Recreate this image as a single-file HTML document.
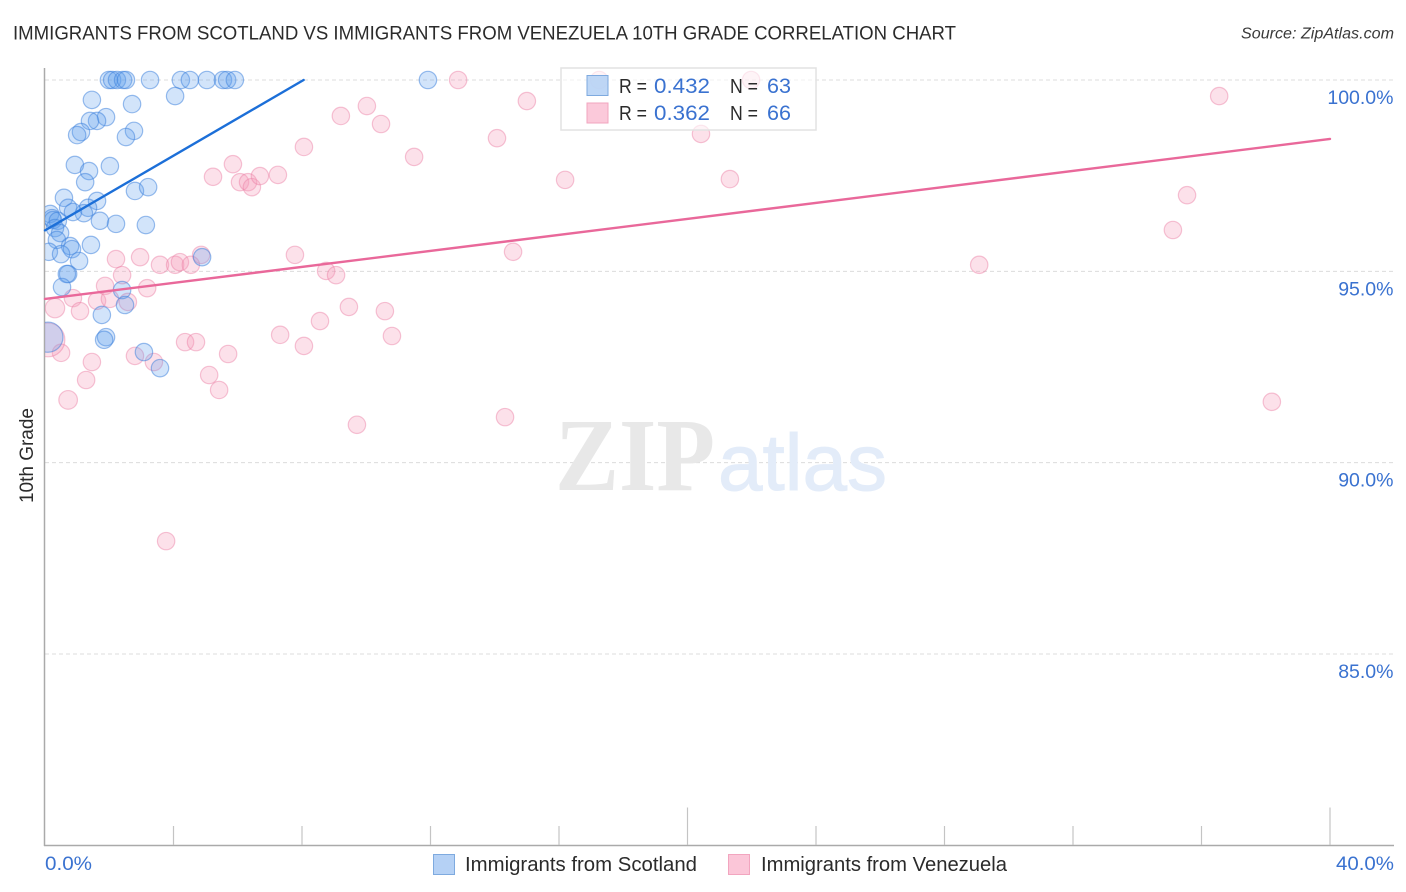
<!DOCTYPE html>
<html lang="en">
<head>
<meta charset="utf-8">
<title>Immigrants from Scotland vs Immigrants from Venezuela 10th Grade Correlation Chart</title>
<style>
html,body{margin:0;padding:0;background:#fff;}
body{width:1406px;height:892px;overflow:hidden;}
svg{display:block;font-family:"Liberation Sans",sans-serif;}
</style>
</head>
<body>
<svg id="chart" width="1406" height="892" viewBox="0 0 1406 892" xmlns="http://www.w3.org/2000/svg">
  <defs>
    <clipPath id="plot-clip"><rect x="45" y="60" width="1349" height="786"></rect></clipPath>
  </defs>
  <rect x="0" y="0" width="1406" height="892" fill="#fff"></rect>
  <text x="13" y="39.5" font-size="19.5" fill="#2b2b2b" textLength="943" lengthAdjust="spacingAndGlyphs">IMMIGRANTS FROM SCOTLAND VS IMMIGRANTS FROM VENEZUELA 10TH GRADE CORRELATION CHART</text>
  <text x="1241" y="38.5" font-size="15.5" font-style="italic" fill="#3a3a3a" textLength="153" lengthAdjust="spacingAndGlyphs">Source: ZipAtlas.com</text>
  <text transform="translate(33,503) rotate(-90)" font-size="19" fill="#2b2b2b" textLength="95" lengthAdjust="spacingAndGlyphs">10th Grade</text>
  <g id="grid"></g>
  <g>
    <text x="555" y="490" font-family="'Liberation Serif',serif" font-size="104" font-weight="bold" fill="#e8e8e8" textLength="160" lengthAdjust="spacingAndGlyphs">ZIP</text>
    <text x="718" y="490" font-size="80" fill="#e3ecf9" stroke="#e3ecf9" stroke-width="1" textLength="169" lengthAdjust="spacingAndGlyphs">atlas</text>
  </g>
  <g id="axes"></g>
  <g id="points" clip-path="url(#plot-clip)"></g>
  <g id="trends"></g>
  <g>
    <rect x="561" y="68" width="255" height="62" fill="#fff" fill-opacity="0.62" stroke="#e2e2e2" stroke-width="1.5"></rect>
    <rect x="587" y="75.5" width="21" height="20" fill="#b5d1f5" fill-opacity="0.88" stroke="#7eaadf" stroke-width="1"></rect>
    <rect x="587" y="103" width="21" height="20" fill="#fbc6d8" fill-opacity="0.95" stroke="#f2a5bf" stroke-width="1"></rect>
    <text x="619" y="93" font-size="20" fill="#2b2b2b" textLength="28" lengthAdjust="spacingAndGlyphs">R =</text>
    <text x="654" y="93" font-size="21" fill="#3a72d0" textLength="56" lengthAdjust="spacingAndGlyphs">0.432</text>
    <text x="730" y="93" font-size="20" fill="#2b2b2b" textLength="28" lengthAdjust="spacingAndGlyphs">N =</text>
    <text x="767" y="93" font-size="21" fill="#3a72d0" textLength="24" lengthAdjust="spacingAndGlyphs">63</text>
    <text x="619" y="120" font-size="20" fill="#2b2b2b" textLength="28" lengthAdjust="spacingAndGlyphs">R =</text>
    <text x="654" y="120" font-size="21" fill="#3a72d0" textLength="56" lengthAdjust="spacingAndGlyphs">0.362</text>
    <text x="730" y="120" font-size="20" fill="#2b2b2b" textLength="28" lengthAdjust="spacingAndGlyphs">N =</text>
    <text x="767" y="120" font-size="21" fill="#3a72d0" textLength="24" lengthAdjust="spacingAndGlyphs">66</text>
  </g>
  <g>
    <rect x="433.5" y="854.5" width="21" height="20" fill="#b5d1f5" stroke="#7eaadf" stroke-width="1"></rect>
    <text x="465" y="871" font-size="20" fill="#2b2b2b" textLength="232" lengthAdjust="spacingAndGlyphs">Immigrants from Scotland</text>
    <rect x="728.5" y="854.5" width="21" height="20" fill="#fbc6d8" stroke="#f2a5bf" stroke-width="1"></rect>
    <text x="761" y="871" font-size="20" fill="#2b2b2b" textLength="246" lengthAdjust="spacingAndGlyphs">Immigrants from Venezuela</text>
  </g>
</svg>
<script>
const yTickValues = [100, 95, 90, 85];
const yTickLabels = ["100.0%", "95.0%", "90.0%", "85.0%"];
const xTickValues = [0, 4, 8, 12, 16, 20, 24, 28, 32, 36, 40];
const xMajorTicks = [20, 40];
const xEndLabels = ["0.0%", "40.0%"];

const scotlandX = [1.99,2.09,2.24,2.43,2.52,3.27,4.23,4.51,5.04,5.54,5.67,5.91,11.92,
  1.46,2.71,4.05,1.90,1.62,1.40,1.12,1.00,2.77,2.52,
  0.93,1.37,1.25,2.02,2.80,3.21,
  0.59,1.62,1.34,1.21,0.72,0.87,1.71,2.21,3.14,
  0.16,0.22,0.25,0.40,0.31,0.47,0.37,0.78,0.84,1.43,0.12,0.50,1.06,4.89,
  0.72,0.68,0.53,2.40,2.49,1.77,1.90,1.84,3.08,3.58,0.09];
const scotlandY = [100,100,100,100,100,100,100,100,100,100,100,100,100,
  99.48,99.37,99.58,99.03,98.93,98.93,98.64,98.56,98.67,98.51,
  97.78,97.62,97.33,97.75,97.10,97.20,
  96.92,96.84,96.66,96.52,96.66,96.55,96.32,96.24,96.21,
  96.50,96.39,96.34,96.32,96.13,96.00,95.82,95.66,95.58,95.69,95.51,95.45,95.27,95.37,
  94.93,94.93,94.59,94.51,94.12,93.86,93.28,93.21,92.89,92.47,93.28];

const venezuelaX = [36.55,12.86,21.98,15.00,10.02,9.21,10.46,14.07,20.42,8.06,11.49,16.19,21.32,
  5.85,5.23,6.07,6.32,6.44,6.69,7.25,35.55,35.11,14.57,
  2.21,2.96,3.58,4.05,4.20,4.54,4.86,7.78,29.08,8.75,9.06,
  2.40,1.87,3.18,0.87,1.62,2.02,2.58,0.31,1.09,
  9.46,8.56,10.58,10.80,7.32,8.06,4.36,4.70,5.70,2.80,3.39,1.46,1.28,0.72,5.11,5.42,0.50,0.09,
  9.71,14.32,3.77,38.19,17.25];
const venezuelaY = [99.58,100,100,99.45,99.32,99.06,98.85,98.48,98.59,98.25,97.99,97.39,97.41,
  97.80,97.47,97.33,97.33,97.20,97.49,97.52,96.99,96.08,95.51,
  95.32,95.37,95.17,95.17,95.24,95.17,95.43,95.43,95.17,95.01,94.90,
  94.90,94.62,94.56,94.30,94.23,94.28,94.20,94.04,93.96,
  94.07,93.70,93.96,93.31,93.34,93.05,93.15,93.15,92.84,92.79,92.63,92.63,92.16,91.64,92.29,91.90,92.87,93.21,
  90.99,91.19,87.95,91.59,100];

const scotlandTrendX = [0, 8.05];
const scotlandTrendY = [96.07, 100];
const venezuelaTrendX = [0, 40];
const venezuelaTrendY = [94.28, 98.46];

/* population weights for unusually heavy points, by point index; all others weigh 1 */
const scotlandWeights = {62: 3};
const venezuelaWeights = {41: 1.25, 56: 1.15, 60: 3.8};

const SVG_NS = "http://www.w3.org/2000/svg";
const xScale = v => 45 + v * (1330 - 45) / 40;
const yScale = v => 80 + (100 - v) * (654 - 80) / 15;
const radius = w => 8.7 * Math.sqrt(w);

function make(tag, attrs, parent, text) {
  const el = document.createElementNS(SVG_NS, tag);
  Object.keys(attrs).forEach(k => el.setAttribute(k, attrs[k]));
  if (text !== undefined) el.textContent = text;
  parent.appendChild(el);
  return el;
}

const grid = document.getElementById("grid");
const axes = document.getElementById("axes");
const pointsLayer = document.getElementById("points");
const trends = document.getElementById("trends");

yTickValues.forEach((v, i) => {
  const line = make("line", {x1: 45, x2: 1394, y1: yScale(v), y2: yScale(v), stroke: "#dcdcdc", "stroke-width": 1, "stroke-dasharray": "4 3"}, grid);
  
  
  const label = make("text", {x: 1393.5, y: yScale(v) + 24, "text-anchor": "end", "font-size": 19.5, fill: "#3a72d0"}, axes, yTickLabels[i]);
  
  
});

const leftAxis = make("line", {x1: 44.5, x2: 44.5, y1: 68, y2: 846, stroke: "#aaaaaa", "stroke-width": 1.5}, axes);


const bottomAxis = make("line", {x1: 44, x2: 1394, y1: 845.5, y2: 845.5, stroke: "#aaaaaa", "stroke-width": 1.5}, axes);



xTickValues.slice(1).forEach(v => {
  const top = xMajorTicks.includes(v) ? 807.5 : 826;
  const tick = make("line", {x1: xScale(v), x2: xScale(v), y1: top, y2: 845, stroke: "#c4c4c4", "stroke-width": 1.2}, axes);
  
  
});

const xLabelStart = make("text", {x: xScale(xTickValues[0]), y: 870, "font-size": 19.5, fill: "#3a72d0", textLength: 47, lengthAdjust: "spacingAndGlyphs"}, axes, xEndLabels[0]);


const xLabelEnd = make("text", {x: 1336, y: 870, "font-size": 19.5, fill: "#3a72d0", textLength: 58, lengthAdjust: "spacingAndGlyphs"}, axes, xEndLabels[1]);



venezuelaX.forEach((x, i) => {
  const c = make("circle", {cx: xScale(x), cy: yScale(venezuelaY[i]), r: radius(venezuelaWeights[i] || 1), fill: "#f59ab8", "fill-opacity": 0.3, stroke: "#ec7fa5", "stroke-opacity": 0.45, "stroke-width": 1.2}, pointsLayer);
  
  
});

scotlandX.forEach((x, i) => {
  const c = make("circle", {cx: xScale(x), cy: yScale(scotlandY[i]), r: radius(scotlandWeights[i] || 1), fill: "#5f9eee", "fill-opacity": 0.28, stroke: "#3f82dc", "stroke-opacity": 0.52, "stroke-width": 1.2}, pointsLayer);
  
  
});

const trendScotland = make("line", {x1: xScale(scotlandTrendX[0]), y1: yScale(scotlandTrendY[0]), x2: xScale(scotlandTrendX[1]), y2: yScale(scotlandTrendY[1]), stroke: "#1c6fd8", "stroke-width": 2.4, "stroke-linecap": "round"}, trends);


const trendVenezuela = make("line", {x1: xScale(venezuelaTrendX[0]), y1: yScale(venezuelaTrendY[0]), x2: xScale(venezuelaTrendX[1]), y2: yScale(venezuelaTrendY[1]), stroke: "#e9689a", "stroke-width": 2.4, "stroke-linecap": "round"}, trends);


</script>
</body>
</html>
